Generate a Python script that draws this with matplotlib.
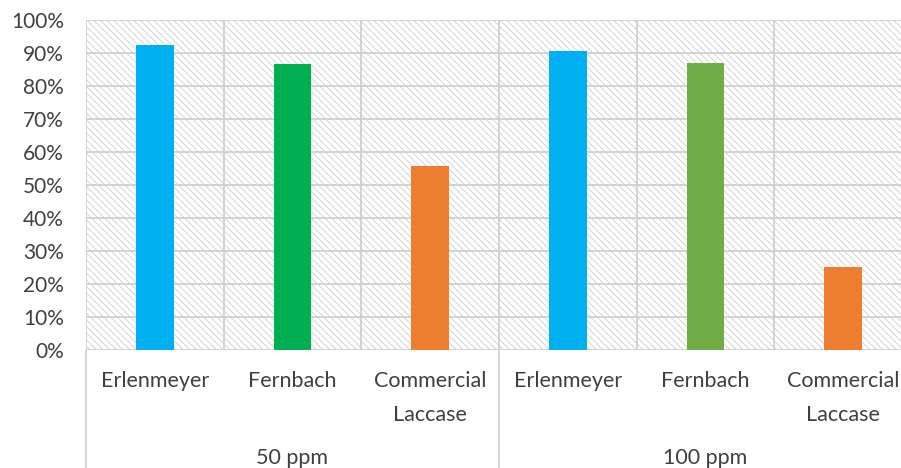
import matplotlib.pyplot as plt
from matplotlib.patches import Rectangle

# -----------------------------
# Data
# -----------------------------
groups = ["50 ppm", "100 ppm"]
vessels = ["Erlenmeyer", "Fernbach", "Commercial\nLaccase"]
values = [0.924, 0.867, 0.558, 0.906, 0.870, 0.252]
colors = ["#00B0F0", "#00B050", "#ED7D31", "#00B0F0", "#70AD47", "#ED7D31"]
yticks = [0, 0.1, 0.2, 0.3, 0.4, 0.5, 0.6, 0.7, 0.8, 0.9, 1.0]

plt.rcParams["font.family"] = ["Lato", "DejaVu Sans"]
plt.rcParams["hatch.color"] = "#cccccc"
plt.rcParams["hatch.linewidth"] = 0.6

W, H = 901, 468
fig = plt.figure(figsize=(W / 100, H / 100), dpi=100)
ax = fig.add_axes([86 / W, (H - 350) / H, (912 - 86) / W, 330 / H])

n = len(values)
x = list(range(n))

# hatched background
bg = Rectangle((0, 0), 1, 1, transform=ax.transAxes, facecolor="white",
               edgecolor="#cccccc", hatch="\\" * 5, linewidth=0, zorder=0)
ax.add_patch(bg)

# grid
for t in yticks:
    ax.axhline(t, color="#d0d0d0", linewidth=1.3, zorder=1)
for b in range(n + 1):
    ax.axvline(b - 0.5, color="#d0d0d0", linewidth=1.3, zorder=1)

ax.bar(x, values, width=0.275, color=colors, zorder=3)

ax.set_xlim(-0.5, n - 0.5)
ax.set_ylim(0, 1.0)
ax.set_yticks(yticks)
ax.set_yticklabels([f"{int(round(t * 100))}%" for t in yticks])
ax.tick_params(axis="y", length=0, pad=16, labelsize=15, labelcolor="#404040")
ax.set_xticks([])
for s in ax.spines.values():
    s.set_visible(False)

# multi-level category labels
fs = 15.5
tr = ax.get_xaxis_transform()
for i in range(n):
    lines = vessels[i % 3].split("\n")
    ax.text(i, -0.094, lines[0], transform=tr, ha="center", va="center",
            fontsize=fs, color="#404040")
    if len(lines) > 1:
        ax.text(i, -0.197, lines[1], transform=tr, ha="center", va="center",
                fontsize=fs, color="#404040")
for g, name in enumerate(groups):
    ax.text(g * 3 + 1, -0.327, name, transform=tr, ha="center", va="center",
            fontsize=fs, color="#404040")

for b in [-0.5, 2.5, 5.5]:
    ax.plot([b, b], [0, -0.36], transform=tr, color="#d0d0d0", linewidth=1.3,
            clip_on=False, zorder=1)

fig.savefig("out.png", dpi=100)
